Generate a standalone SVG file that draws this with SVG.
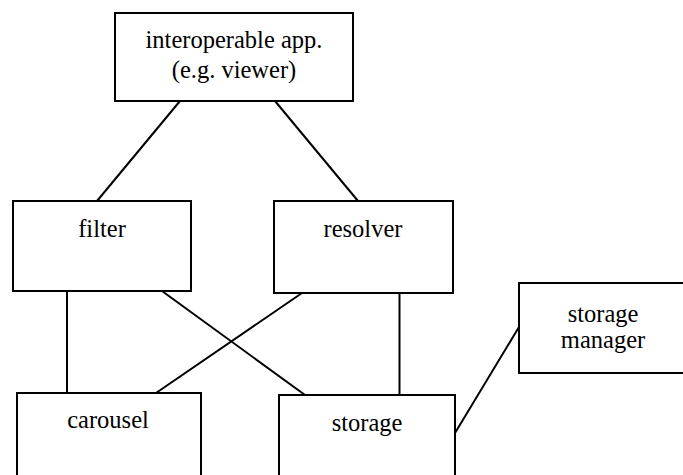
<svg xmlns="http://www.w3.org/2000/svg" width="683" height="475" viewBox="0 0 683 475" font-family="Liberation Serif, Times New Roman, serif" font-size="24.5">
<style>
rect{fill:#fff;stroke:#000;stroke-width:2}
line{stroke:#000;stroke-width:2}
</style>
<rect x="0" y="0" width="683" height="475" style="stroke:none"/>
<g id="connectors">
<line x1="180" y1="101" x2="97" y2="201"/>
<line x1="275" y1="101" x2="358" y2="201"/>
<line x1="67" y1="291" x2="67" y2="393"/>
<line x1="162" y1="291" x2="305" y2="395"/>
<line x1="302" y1="293" x2="156" y2="393"/>
<line x1="399.5" y1="293" x2="399.5" y2="395"/>
<line x1="455" y1="433" x2="519" y2="327"/>
</g>
<g id="app"><rect x="115" y="13" width="238" height="88"/><text x="234" y="48" text-anchor="middle" font-family="Liberation Serif, serif" font-size="24.5">interoperable app.</text><text x="234" y="78" text-anchor="middle" font-family="Liberation Serif, serif" font-size="24.5">(e.g. viewer)</text></g>
<g id="filter"><rect x="13" y="201" width="178" height="90"/><text x="102" y="237" text-anchor="middle" font-family="Liberation Serif, serif" font-size="24.5">filter</text></g>
<g id="resolver"><rect x="274" y="201" width="179" height="92"/><text x="363" y="237" text-anchor="middle" font-family="Liberation Serif, serif" font-size="24.5">resolver</text></g>
<g id="carousel"><rect x="17" y="393" width="184" height="90"/><text x="108" y="428" text-anchor="middle" font-family="Liberation Serif, serif" font-size="24.5">carousel</text></g>
<g id="storage"><rect x="279" y="395" width="176" height="90"/><text x="367" y="431" text-anchor="middle" font-family="Liberation Serif, serif" font-size="24.5">storage</text></g>
<g id="storage-manager"><rect x="519" y="283" width="170" height="90"/><text x="603" y="322" text-anchor="middle" font-family="Liberation Serif, serif" font-size="24.5">storage</text><text x="603" y="348" text-anchor="middle" font-family="Liberation Serif, serif" font-size="24.5">manager</text></g>
</svg>
